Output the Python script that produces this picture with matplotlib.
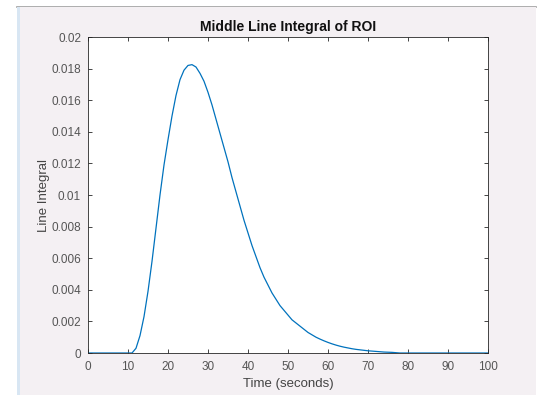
import matplotlib
matplotlib.use("Agg")
import matplotlib.pyplot as plt
from matplotlib.patches import Rectangle
from matplotlib.lines import Line2D

time_s = list(range(0, 101))
line_integral = (
    [0.0] * 12 +  # t = 0..11
    [0.0003, 0.0011, 0.0023, 0.0039, 0.0058, 0.0079, 0.0100, 0.0119, 0.0135, 0.0150,  # 12..21
     0.0163, 0.0173, 0.0179, 0.0182, 0.01825, 0.0181, 0.0177, 0.0172, 0.0165, 0.0157,  # 22..31
     0.0148, 0.0139, 0.0130, 0.0121, 0.0111, 0.0102, 0.0093, 0.0084, 0.0076, 0.0068,  # 32..41
     0.0061, 0.0054, 0.0048, 0.0043, 0.0038, 0.0034, 0.0030, 0.0027, 0.0024, 0.0021,  # 42..51
     0.0019, 0.0017, 0.0015, 0.0013, 0.00115, 0.0010, 0.00088, 0.00077, 0.00067, 0.00058,  # 52..61
     0.0005, 0.00043, 0.00037, 0.00032, 0.00027, 0.00023, 0.0002, 0.00017, 0.00014, 0.00012,  # 62..71
     0.0001, 0.00008, 0.00006, 0.00005, 0.00004, 0.00002] +  # 72..77
    [0.0] * 23  # 78..100
)

xticks = list(range(0, 101, 10))
yticks = [0, 0.002, 0.004, 0.006, 0.008, 0.01, 0.012, 0.014, 0.016, 0.018, 0.02]
ytick_labels = ["0", "0.002", "0.004", "0.006", "0.008", "0.01", "0.012", "0.014", "0.016", "0.018", "0.02"]

plt.rcParams['font.family'] = ['Liberation Sans', 'DejaVu Sans']

W, H = 539, 395
fig = plt.figure(figsize=(W / 100, H / 100), dpi=100)
fig.patch.set_facecolor('white')

# window background
fig.patches.append(Rectangle((18 / W, 0), (536 - 18) / W, 1 - 7 / H, transform=fig.transFigure,
                             facecolor='#f4f0f3', edgecolor='none', zorder=-10))
fig.patches.append(Rectangle((17 / W, 0), 3 / W, 1 - 7 / H, transform=fig.transFigure,
                             facecolor='#d8e6f3', edgecolor='none', zorder=-10))
fig.lines.append(Line2D([17 / W, 536 / W], [1 - 6.5 / H, 1 - 6.5 / H], transform=fig.transFigure,
                        color='#a0a0a0', lw=1.2, zorder=-10))

ax = fig.add_axes([88 / W, 42 / H, 400 / W, 316 / H])
ax.set_zorder(5)
ax.set_facecolor('white')
ax.plot(time_s, line_integral, color='#0072BD', lw=0.9)

ax.set_xlim(0, 100)
ax.set_ylim(0, 0.02)
ax.set_xticks(xticks)
ax.set_xticklabels([str(v) for v in xticks])
ax.set_yticks(yticks)
ax.set_yticklabels(ytick_labels)

txt = '#555555'
ax.tick_params(direction='in', length=3, width=0.6, colors='#262626', labelcolor=txt,
               labelsize=8.5, top=True, right=True)
ax.tick_params(axis='x', pad=6)
ax.tick_params(axis='y', pad=5)
for s in ax.spines.values():
    s.set_color('#262626')
    s.set_linewidth(0.6)

ax.set_xlabel('Time (seconds)', fontsize=9.5, color='#444444', labelpad=3)
ax.set_ylabel('Line Integral', fontsize=9.5, color='#444444', labelpad=1)
ax.set_title('Middle Line Integral of ROI', fontsize=10, fontweight='bold', color='#111111', pad=4)

fig.savefig('out.png', dpi=100, facecolor=fig.get_facecolor())
